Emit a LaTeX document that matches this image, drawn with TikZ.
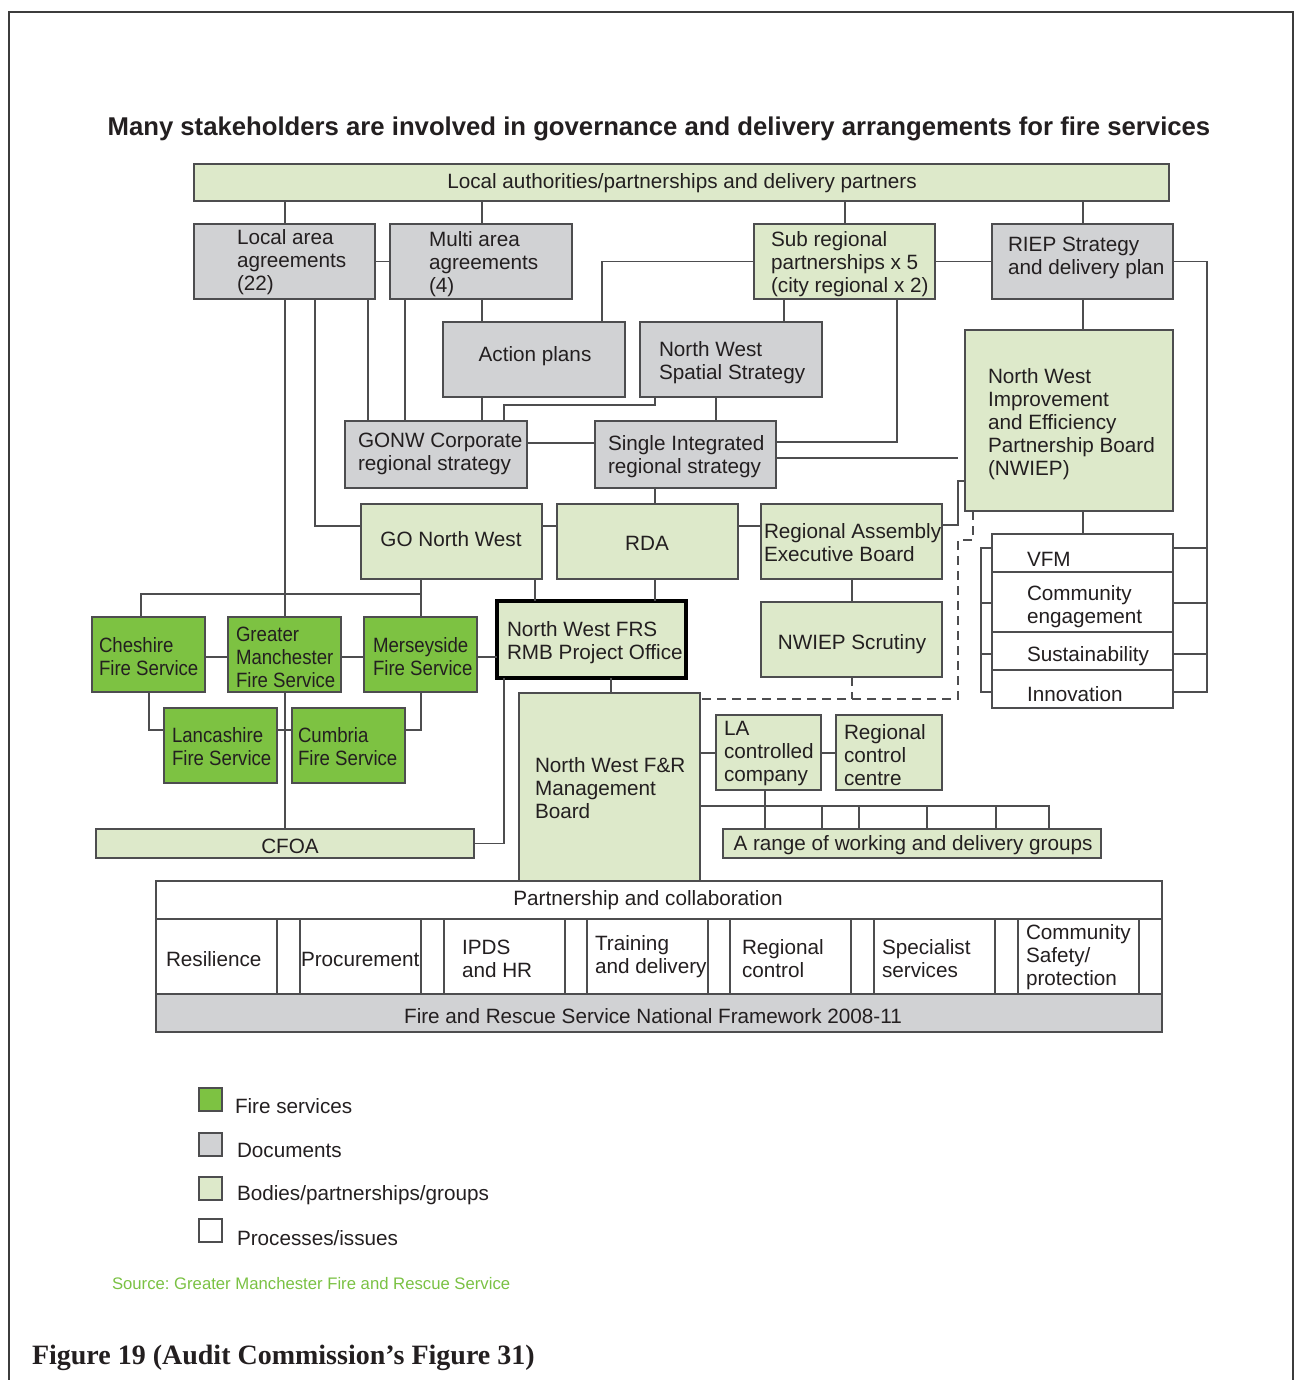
\documentclass[tikz,border=0pt]{standalone}
\usepackage{fontspec}
\setmainfont{Liberation Sans}
\newfontfamily\capfont{Liberation Serif}
\newfontfamily\narrowfont[FakeStretch=0.9]{Liberation Sans}
\usetikzlibrary{calc}
\definecolor{fsgreen}{HTML}{7DC242}
\definecolor{bodygreen}{HTML}{DDE9CA}
\definecolor{docgray}{HTML}{D1D2D4}
\definecolor{linegray}{HTML}{4D4D4F}
\definecolor{txtc}{HTML}{231F20}
\definecolor{srcgreen}{HTML}{7AC143}
\definecolor{framec}{HTML}{3C3C3C}
\tikzset{
  bxs/.style={draw=linegray, line width=1.4pt, inner sep=0pt, outer sep=0pt},
  fire/.style={bxs, fill=fsgreen},
  body/.style={bxs, fill=bodygreen},
  doc/.style={bxs, fill=docgray},
  proc/.style={bxs, fill=white},
  tx/.style={inner sep=0pt, outer sep=0pt, text=txtc, font=\fontsize{20.7}{23}\selectfont, align=left, yshift=-2pt},
  nar/.style={font=\narrowfont\fontsize{20.7}{23}\selectfont},
  ln/.style={draw=linegray, line width=1.4pt},
  dl/.style={draw=linegray, line width=1.4pt, dash pattern=on 9pt off 6pt},
  framel/.style={draw=framec, line width=1.5pt}
}
\newcommand\bx[6]{\node[#6, minimum width={(#4)-(#2)}, minimum height={(#5)-(#3)}] (#1) at ({((#2)+(#4))/2},{((#3)+(#5))/2}) {};}
\begin{document}
\frenchspacing
\begin{tikzpicture}[x=1pt,y=-1pt]
\useasboundingbox (0,0) rectangle (1297,1380);
\draw[framel] (9,1380) -- (9,12) -- (1293,12) -- (1293,1380);
\node[tx, font=\fontsize{25.7}{30}\selectfont\bfseries] (title) at (659,127) {Many stakeholders are involved in governance and delivery arrangements for fire services};

% boxes
\bx{top}{194}{164}{1169}{201}{body}
\bx{laa}{194}{224}{375}{299}{doc}
\bx{maa}{390}{224}{572}{299}{doc}
\bx{sub}{754}{224}{935}{299}{body}
\bx{riep}{992}{224}{1173}{299}{doc}
\bx{act}{443}{322}{625}{397}{doc}
\bx{nwss}{640}{322}{822}{397}{doc}
\bx{nwiep}{965}{330}{1173}{511}{body}
\bx{gonw}{345}{421}{527}{488}{doc}
\bx{sirs}{595}{421}{776}{488}{doc}
\bx{gono}{361}{504}{542}{579}{body}
\bx{rda}{557}{504}{738}{579}{body}
\bx{rega}{761}{504}{942}{579}{body}
\bx{scr}{761}{602}{942}{677}{body}
\bx{vfmA}{992}{534}{1173}{572}{proc}
\bx{vfmB}{992}{572}{1173}{632}{proc}
\bx{vfmC}{992}{632}{1173}{670}{proc}
\bx{vfmD}{992}{670}{1173}{708}{proc}
\bx{ches}{92}{617}{205}{692}{fire}
\bx{gmfs}{228}{617}{341}{692}{fire}
\bx{mers}{364}{617}{477}{692}{fire}
\bx{frs}{497}{601}{686}{678}{body, draw=black, line width=3.5pt}
\bx{lanc}{164}{708}{277}{783}{fire}
\bx{cumb}{292}{708}{405}{783}{fire}
\bx{cfoa}{96}{829}{474}{858}{body}
\bx{mb}{519}{693}{700}{881}{body}
\bx{lacc}{716}{715}{821}{790}{body}
\bx{rcc}{836}{715}{942}{790}{body}
\bx{wg}{723}{829}{1101}{858}{body}
\bx{pc}{156}{881}{1162}{919}{proc}
\bx{c1}{156}{919}{277}{994}{proc}
\bx{g1}{277}{919}{300}{994}{proc}
\bx{c2}{300}{919}{421}{994}{proc}
\bx{g2}{421}{919}{444}{994}{proc}
\bx{c3}{444}{919}{565}{994}{proc}
\bx{g3}{565}{919}{587}{994}{proc}
\bx{c4}{587}{919}{708}{994}{proc}
\bx{g4}{708}{919}{730}{994}{proc}
\bx{c5}{730}{919}{851}{994}{proc}
\bx{g5}{851}{919}{874}{994}{proc}
\bx{c6}{874}{919}{995}{994}{proc}
\bx{g6}{995}{919}{1018}{994}{proc}
\bx{c7}{1018}{919}{1139}{994}{proc}
\bx{g7}{1139}{919}{1162}{994}{proc}
\bx{nf}{156}{994}{1162}{1032}{doc}
\bx{lg1}{199}{1088}{222}{1111}{fire}
\bx{lg2}{199}{1133}{222}{1156}{doc}
\bx{lg3}{199}{1177}{222}{1200}{body}
\bx{lg4}{199}{1219}{222}{1242}{proc}

% connectors
\draw[ln] (285,0 |- top.south) -- (285,0 |- laa.north);
\draw[ln] (482,0 |- top.south) -- (482,0 |- maa.north);
\draw[ln] (845,0 |- top.south) -- (845,0 |- sub.north);
\draw[ln] (1083,0 |- top.south) -- (1083,0 |- riep.north);
\draw[ln] (laa.east) -- (maa.west);
\draw[ln] (sub.east) -- (riep.west);
\draw[ln] (sub.west) -| (602,0 |- act.north);
\draw[ln] (482,0 |- maa.south) -- (482,0 |- act.north);
\draw[ln] (482,0 |- act.south) -- (482,0 |- gonw.north);
\coordinate (k1) at (655,405);
\coordinate (k2) at (504,405);
\draw[ln] (655,0 |- nwss.south) -- (k1) -- (k2) -- (504,0 |- gonw.north);
\draw[ln] (784,0 |- sub.south) -- (784,0 |- nwss.north);
\draw[ln] (897,0 |- sub.south) |- (sirs.east |- 0,442);
\coordinate (sirsend) at (958,458);
\draw[ln] (sirs.east |- 0,458) -- (sirsend);
\draw[ln] (716,0 |- nwss.south) -- (716,0 |- sirs.north);
\draw[ln] (gonw.east |- 0,443) -- (sirs.west |- 0,443);
\draw[ln] (655,0 |- sirs.south) -- (655,0 |- rda.north);
\draw[ln] (285,0 |- laa.south) -- (285,0 |- gmfs.north);
\draw[ln] (285,0 |- gmfs.south) -- (285,0 |- cfoa.north);
\draw[ln] (315,0 |- laa.south) |- (gono.west |- 0,526);
\draw[ln] (368,0 |- laa.south) -- (368,0 |- gonw.north);
\draw[ln] (405,0 |- maa.south) -- (405,0 |- gonw.north);
\draw[ln] (gono.east |- 0,526) -- (rda.west |- 0,526);
\draw[ln] (rda.east |- 0,526) -- (rega.west |- 0,526);
\coordinate (bus) at (421,594);
\draw[ln] (421,0 |- gono.south) -- (421,0 |- mers.north);
\draw[ln] (141,0 |- ches.north) |- (bus);
\draw[ln] (535,0 |- gono.south) -- (535,0 |- frs.north);
\draw[ln] (655,0 |- rda.south) -- (655,0 |- frs.north);
\draw[ln] (852,0 |- rega.south) -- (852,0 |- scr.north);
\draw[ln] (ches.east |- 0,657) -- (gmfs.west |- 0,657);
\draw[ln] (gmfs.east |- 0,657) -- (mers.west |- 0,657);
\draw[ln] (mers.east |- 0,657) -- (frs.west |- 0,657);
\draw[ln] (149,0 |- ches.south) |- (lanc.west |- 0,730);
\draw[ln] (421,0 |- mers.south) |- (cumb.east |- 0,730);
\draw[ln] (lanc.east |- 0,730) -- (cumb.west |- 0,730);
\draw[ln] (504,0 |- frs.south) |- (cfoa.east);
\draw[ln] (611,0 |- frs.south) -- (611,0 |- mb.north);
\draw[ln] (mb.east |- 0,753) -- (lacc.west |- 0,753);
\draw[ln] (lacc.east |- 0,753) -- (rcc.west |- 0,753);
\draw[ln] (mb.east |- 0,806) -| (1049,0 |- wg.north);
\foreach \xx in {822,859,927,996} \draw[ln] (\xx,806) -- (\xx,0 |- wg.north);
\draw[ln] (765,0 |- lacc.south) -- (765,0 |- wg.north);
\draw[dl] (973,0 |- nwiep.south) -- (973,540) -- (958,540) -- (958,699) -- (mb.east |- 0,699);
\draw[dl] (852,0 |- scr.south) -- (852,699);
\draw[ln] (rega.east |- 0,525) -- (958,525) |- (nwiep.west |- 0,481);
\draw[ln] (1083,0 |- riep.south) -- (1083,0 |- nwiep.north);
\draw[ln] (1083,0 |- nwiep.south) -- (1083,0 |- vfmA.north);
\draw[ln] (vfmA.west |- 0,548) -- (981,548) -- (981,692) -- (vfmD.west |- 0,692);
\draw[ln] (981,603) -- (vfmB.west |- 0,603);
\draw[ln] (981,654) -- (vfmC.west |- 0,654);
\draw[ln] (riep.east) -- (1207,0 |- riep.east) -- (1207,692) -- (vfmD.east |- 0,692);
\draw[ln] (1207,548) -- (vfmA.east |- 0,548);
\draw[ln] (1207,603) -- (vfmB.east |- 0,603);
\draw[ln] (1207,654) -- (vfmC.east |- 0,654);

% texts
\node[tx] (ttop) at (682,181) {Local authorities/partnerships and delivery partners};
\node[tx, anchor=west] (tlaa) at (237,260) {Local area\\agreements\\(22)};
\node[tx, anchor=west] (tmaa) at (429,262) {Multi area\\agreements\\(4)};
\node[tx, anchor=west] (tsub) at (771,262) {Sub regional\\partnerships x 5\\(city regional x 2)};
\node[tx, anchor=west] (triep) at (1008,256) {RIEP Strategy\\and delivery plan};
\node[tx] (tact) at (535,354) {Action plans};
\node[tx, anchor=west] (tnwss) at (659,361) {North West\\Spatial Strategy};
\node[tx, anchor=west] (tnwiep) at (988,422) {North West\\Improvement\\and Efficiency\\Partnership Board\\(NWIEP)};
\node[tx, anchor=west] (tgonw) at (358,452) {GONW Corporate\\regional strategy};
\node[tx, anchor=west] (tsirs) at (608,455) {Single Integrated\\regional strategy};
\node[tx] (tgono) at (451,537) {GO North West};
\node[tx] (trda) at (647,541) {RDA};
\node[tx, anchor=west] (trega) at (764,541) {Regional Assembly\\Executive Board};
\node[tx] (tscr) at (852,642) {NWIEP Scrutiny};
\node[tx, anchor=west] (tvfmA) at (1027,557) {VFM};
\node[tx, anchor=west] (tvfmB) at (1027,605) {Community\\engagement};
\node[tx, anchor=west] (tvfmC) at (1027,654) {Sustainability};
\node[tx, anchor=west] (tvfmD) at (1027,692) {Innovation};
\node[tx, nar, anchor=west] (tches) at (99,655) {Cheshire\\Fire Service};
\node[tx, nar, anchor=west] (tgmfs) at (236,655) {Greater\\Manchester\\Fire Service};
\node[tx, nar, anchor=west] (tmers) at (373,655) {Merseyside\\Fire Service};
\node[tx, anchor=west] (tfrs) at (507,641) {North West FRS\\RMB Project Office};
\node[tx, nar, anchor=west] (tlanc) at (172,745) {Lancashire\\Fire Service};
\node[tx, nar, anchor=west] (tcumb) at (298,745) {Cumbria\\Fire Service};
\node[tx] (tcfoa) at (290,844) {CFOA};
\node[tx, anchor=west] (tmb) at (535,786) {North West F\&R\\Management\\Board};
\node[tx, anchor=west] (tlacc) at (724,752) {LA\\controlled\\company};
\node[tx, anchor=west] (trcc) at (844,753) {Regional\\control\\centre};
\node[tx] (twg) at (913,843) {A range of working and delivery groups};
\node[tx] (tpc) at (648,898) {Partnership and collaboration};
\node[tx, anchor=west] (tc1) at (166,957) {Resilience};
\node[tx, anchor=west] (tc2) at (301,957) {Procurement};
\node[tx, anchor=west] (tc3) at (462,957) {IPDS\\and HR};
\node[tx, anchor=west] (tc4) at (595,955) {Training\\and delivery};
\node[tx, anchor=west] (tc5) at (742,957) {Regional\\control};
\node[tx, anchor=west] (tc6) at (882,957) {Specialist\\services};
\node[tx, anchor=west] (tc7) at (1026,955) {Community\\Safety/\\protection};
\node[tx] (tnf) at (653,1014) {Fire and Rescue Service National Framework 2008-11};

% legend
\node[tx, anchor=west] (tlg1) at (235,1104) {Fire services};
\node[tx, anchor=west] (tlg2) at (237,1148) {Documents};
\node[tx, anchor=west] (tlg3) at (237,1193) {Bodies/partnerships/groups};
\node[tx, anchor=west] (tlg4) at (237,1236) {Processes/issues};
\node[tx, anchor=west, text=srcgreen, font=\fontsize{16.7}{20}\selectfont] (src) at (112,1282) {Source: Greater Manchester Fire and Rescue Service};
\node[tx, anchor=west, font=\capfont\bfseries\fontsize{28}{32}\selectfont] (cap) at (32,1356) {Figure 19 (Audit Commission’s Figure 31)};
\end{tikzpicture}
\end{document}
